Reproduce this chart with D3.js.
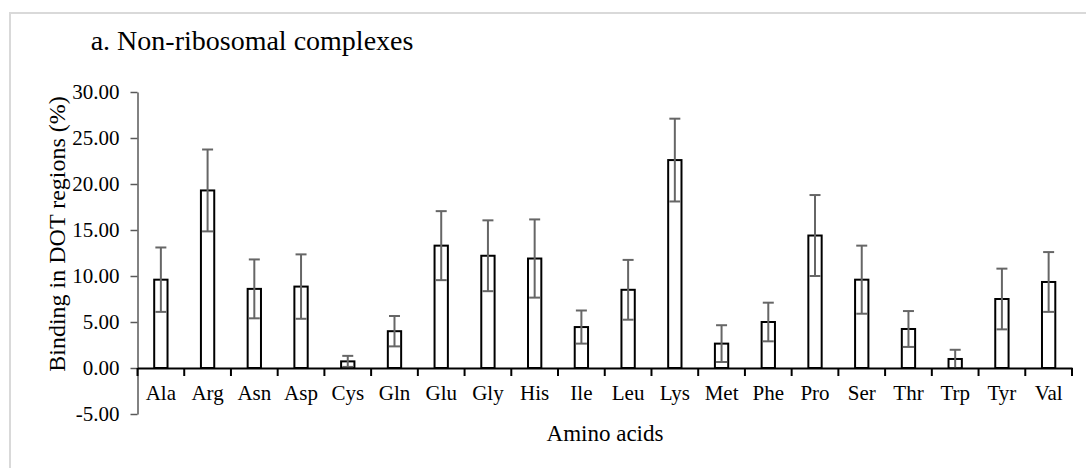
<!DOCTYPE html>
<html>
<head>
<meta charset="utf-8">
<script src="https://cdn.jsdelivr.net/npm/d3@7"></script>
<style>
  body { margin: 0; background: #fff; }
  svg text { font-family: "Liberation Serif", "Times New Roman", serif; fill: #000; }
</style>
</head>
<body>
<div id="chart"></div>
<script>
// amino acids on the x axis
let categories = ['Ala', 'Arg', 'Asn', 'Asp', 'Cys', 'Gln', 'Glu', 'Gly', 'His', 'Ile',
    'Leu', 'Lys', 'Met', 'Phe', 'Pro', 'Ser', 'Thr', 'Trp', 'Tyr', 'Val'];

// binding (%) and its error (+/-)
let values = [9.6, 19.3, 8.6, 8.85, 0.72, 4.0, 13.3, 12.2, 11.9, 4.45,
    8.5, 22.6, 2.65, 5.0, 14.4, 9.6, 4.24, 0.98, 7.5, 9.35];
let errors = [3.5, 4.45, 3.2, 3.5, 0.6, 1.65, 3.75, 3.85, 4.25, 1.8,
    3.25, 4.5, 2.0, 2.1, 4.4, 3.7, 1.95, 1.0, 3.3, 3.25];

let yTicks = [-5, 0, 5, 10, 15, 20, 25, 30];

let width = 1086,
    height = 468;

let plot = {
    left: 137.5,
    right: 1072,
    top: 92,
    bottom: 414
};

let svg = d3.select('#chart').append('svg')
    .attr('width', width)
    .attr('height', height);

// light frame (only top and left edges show)
svg.append('rect')
    .attr('x', 10)
    .attr('y', 13)
    .attr('width', width + 20)
    .attr('height', height + 20)
    .attr('fill', 'none')
    .attr('stroke', '#d9d9d9')
    .attr('stroke-width', 2);

let y = d3.scaleLinear()
    .domain([-5, 30])
    .range([plot.bottom, plot.top]);

let x = d3.scaleBand()
    .domain(categories)
    .range([plot.left, plot.right])
    .paddingInner(0.715)
    .paddingOuter(0.3575);

// same bands without padding, for the boundary ticks
let xb = d3.scaleBand()
    .domain(categories)
    .range([plot.left, plot.right]);

// y axis
let yAxis = svg.append('g')
    .attr('transform', 'translate(' + plot.left + ',0)')
    .call(d3.axisLeft(y)
        .tickValues(yTicks)
        .tickSize(7)
        .tickSizeOuter(0)
        .tickPadding(11)
        .tickFormat(function(d) { return d.toFixed(2); }));

yAxis.select('.domain').attr('stroke', '#595959').attr('stroke-width', 1.5);
yAxis.selectAll('.tick line').attr('stroke', '#595959').attr('stroke-width', 1.5);
yAxis.selectAll('.tick text')
    .attr('font-size', 21)
    .attr('font-family', '"Liberation Serif", serif')
    .attr('fill', '#000');

// bars
svg.append('g').selectAll('rect')
    .data(values)
    .enter().append('rect')
    .attr('x', function(d, i) { return x(categories[i]); })
    .attr('y', function(d) { return y(d); })
    .attr('width', x.bandwidth())
    .attr('height', function(d) { return y(0) - y(d); })
    .attr('fill', '#fff')
    .attr('stroke', '#000')
    .attr('stroke-width', 2);

// error bars
let cap = 11;
let err = svg.append('g').selectAll('g')
    .data(values)
    .enter().append('g')
    .attr('stroke', '#666')
    .attr('stroke-width', 2);

err.append('line')
    .attr('x1', function(d, i) { return x(categories[i]) + x.bandwidth() / 2; })
    .attr('x2', function(d, i) { return x(categories[i]) + x.bandwidth() / 2; })
    .attr('y1', function(d, i) { return y(d + errors[i]); })
    .attr('y2', function(d, i) { return y(d - errors[i]); });

err.append('line')
    .attr('x1', function(d, i) { return x(categories[i]) + x.bandwidth() / 2 - cap / 2; })
    .attr('x2', function(d, i) { return x(categories[i]) + x.bandwidth() / 2 + cap / 2; })
    .attr('y1', function(d, i) { return y(d + errors[i]); })
    .attr('y2', function(d, i) { return y(d + errors[i]); });

err.append('line')
    .attr('x1', function(d, i) { return x(categories[i]) + x.bandwidth() / 2 - cap / 2; })
    .attr('x2', function(d, i) { return x(categories[i]) + x.bandwidth() / 2 + cap / 2; })
    .attr('y1', function(d, i) { return y(d - errors[i]); })
    .attr('y2', function(d, i) { return y(d - errors[i]); });

// x axis at zero, labels centred under the bars
let xAxis = svg.append('g')
    .attr('transform', 'translate(0,' + y(0) + ')')
    .call(d3.axisBottom(x)
        .tickSize(0)
        .tickSizeOuter(0)
        .tickPadding(17));

xAxis.select('.domain').attr('stroke', '#000').attr('stroke-width', 2);
xAxis.selectAll('.tick text')
    .attr('font-size', 21)
    .attr('font-family', '"Liberation Serif", serif')
    .attr('fill', '#000');

// tick marks between categories
xAxis.selectAll('.bound')
    .data(categories.map(function(c) { return xb(c); }).concat([plot.right]))
    .enter().append('line')
    .attr('class', 'bound')
    .attr('x1', function(d) { return d; })
    .attr('x2', function(d) { return d; })
    .attr('y1', 0)
    .attr('y2', 8)
    .attr('stroke', '#000')
    .attr('stroke-width', 2);

// titles
svg.append('text')
    .attr('x', 90.7)
    .attr('y', 50)
    .attr('font-size', 28)
    .text('a. Non-ribosomal complexes');

svg.append('text')
    .attr('transform', 'translate(65,' + 234 + ') rotate(-90)')
    .attr('text-anchor', 'middle')
    .attr('font-size', 24)
    .text('Binding in DOT regions (%)');

svg.append('text')
    .attr('x', 605)
    .attr('y', 441)
    .attr('text-anchor', 'middle')
    .attr('font-size', 23)
    .text('Amino acids');
</script>
</body>
</html>
